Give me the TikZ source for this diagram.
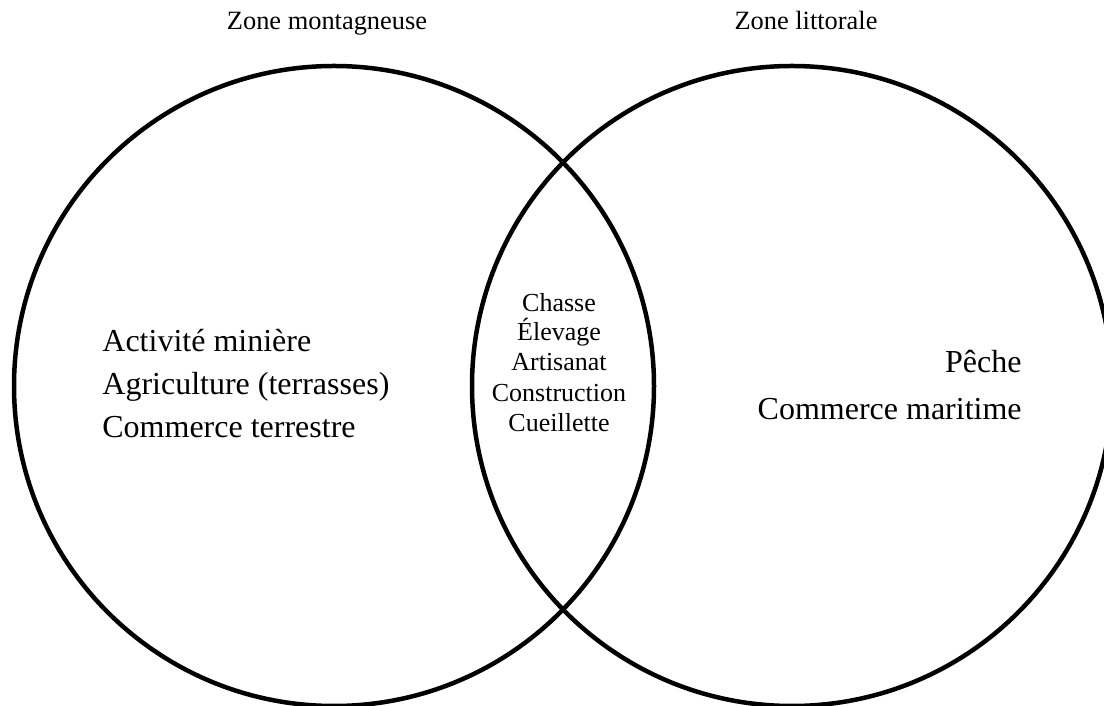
\documentclass[tikz,border=0pt]{standalone}
\usepackage{fontspec}
\setmainfont{Liberation Serif}

\begin{document}
\begin{tikzpicture}[
    x=0.5pt,
    y=0.5pt,
    zone/.style={line width=2.25pt},
    title/.style={font=\fontsize{13.2}{15}\selectfont, inner sep=0pt, anchor=base},
    side/.style={font=\fontsize{16}{18}\selectfont, inner sep=0pt},
    common/.style={font=\fontsize{13}{15}\selectfont, inner sep=0pt, anchor=base}
]
\useasboundingbox (0,0) rectangle (1104,706);
\clip (0,0) rectangle (1104,706);

% the two zones
\coordinate (mont) at (334,320);
\coordinate (litt) at (792,320);
\draw[zone] (mont) circle [radius=320];
\draw[zone] (litt) circle [radius=320];

% titles
\node[title] (tmont) at (327,676) {Zone montagneuse};
\node[title] (tlitt) at (806,676) {Zone littorale};

% mountain side
\node[side, anchor=base west] (m1) at (102,354) {Activité minière};
\node[side, anchor=base west] (m2) at (102,311) {Agriculture (terrasses)};
\node[side, anchor=base west] (m3) at (102,268) {Commerce terrestre};

% coast side
\node[side, anchor=base east] (c1) at (1022,333) {Pêche};
\node[side, anchor=base east] (c2) at (1022,286) {Commerce maritime};

% shared
\node[common] (s1) at (559,394) {Chasse};
\node[common] (s2) at (559,365) {Élevage};
\node[common] (s3) at (559,335) {Artisanat};
\node[common] (s4) at (559,304) {Construction};
\node[common] (s5) at (559,274) {Cueillette};

\end{tikzpicture}
\end{document}
